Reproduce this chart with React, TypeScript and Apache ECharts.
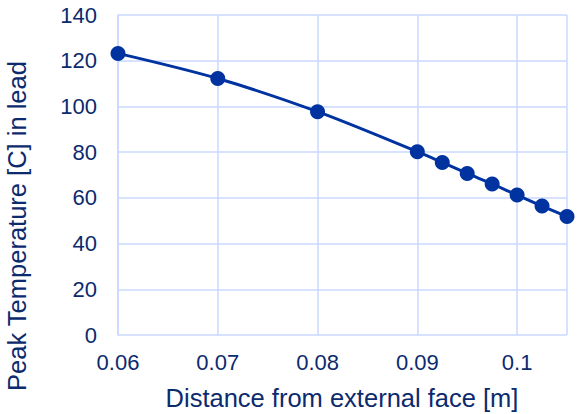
import React, { useEffect, useRef } from "react";
import * as echarts from "echarts";

const distances = [0.06, 0.07, 0.08, 0.09, 0.0925, 0.095, 0.0975, 0.1, 0.1025, 0.105];
const peakTemps = [123.2, 112.2, 97.7, 80.2, 75.5, 70.7, 66.1, 61.2, 56.4, 51.8];
const xTitle = "Distance from external face [m]";
const yTitle = "Peak Temperature [C] in lead";

const textColor = "#0c2a6e";
const lineColor = "#0033a0";
const gridColor = "#c9d9ff";
const fontFamily = "'Liberation Sans', Arial, sans-serif";

export default function App() {
  const ref = useRef<HTMLDivElement>(null);
  useEffect(() => {
    if (!ref.current) return;
    const chart = echarts.init(ref.current, undefined, { renderer: "svg" });
    chart.setOption({
      animation: false,
      grid: { left: 118, top: 15, right: 15, bottom: 79, containLabel: false },
      xAxis: {
        type: "value",
        min: 0.06,
        max: 0.105,
        interval: 0.01,
        axisLine: { show: false },
        axisTick: { show: false },
        splitLine: { show: true, lineStyle: { color: gridColor, width: 1.5 } },
        axisLabel: {
          color: textColor,
          fontSize: 22,
          fontFamily,
          margin: 16,
          showMaxLabel: false,
          formatter: (v: number) => String(parseFloat(v.toFixed(3))),
        },
      },
      yAxis: {
        type: "value",
        min: 0,
        max: 140,
        interval: 20,
        axisLine: { show: true, lineStyle: { color: gridColor, width: 1.5 } },
        axisTick: { show: false },
        splitLine: { show: true, lineStyle: { color: gridColor, width: 1.5 } },
        axisLabel: { color: textColor, fontSize: 22, fontFamily, margin: 21 },
      },
      graphic: [
        {
          type: "text",
          x: 342,
          y: 398,
          style: {
            text: xTitle,
            fill: textColor,
            font: `25.5px ${fontFamily}`,
            textAlign: "center",
            textVerticalAlign: "middle",
          },
        },
        {
          type: "text",
          x: 17,
          y: 226,
          rotation: Math.PI / 2,
          style: {
            text: yTitle,
            fill: textColor,
            font: `25.5px ${fontFamily}`,
            textAlign: "center",
            textVerticalAlign: "middle",
          },
        },
      ],
      series: [
        {
          type: "line",
          data: distances.map((d, i) => [d, peakTemps[i]]),
          smooth: 0.3,
          symbol: "circle",
          symbolSize: 15,
          lineStyle: { color: lineColor, width: 3 },
          itemStyle: { color: lineColor },
        },
      ],
    });
    return () => chart.dispose();
  }, []);
  return <div ref={ref} style={{ width: 582, height: 414, position: "absolute", left: 0, top: 0 }} />;
}
